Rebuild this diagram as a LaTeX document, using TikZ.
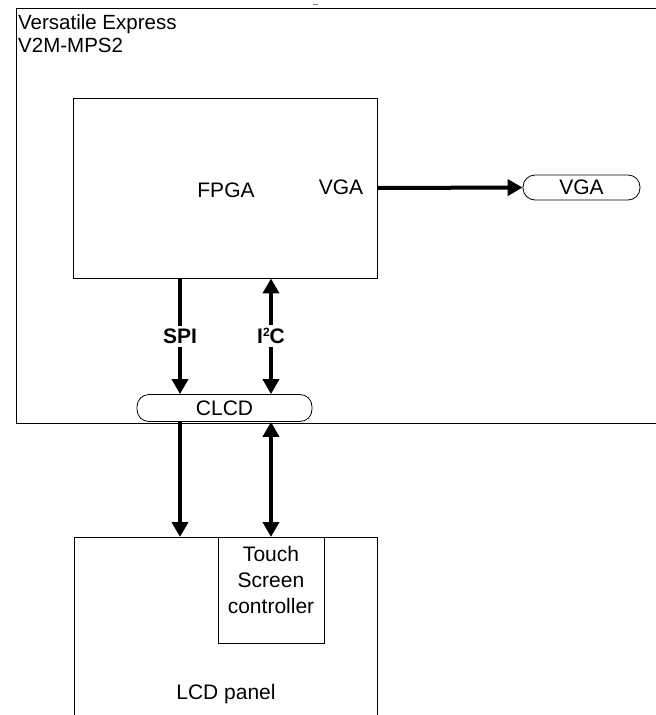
\documentclass[tikz,border=0pt]{standalone}
\usepackage{fontspec}
\setmainfont{Liberation Sans}
\usetikzlibrary{arrows.meta,positioning}

\begin{document}
\begin{tikzpicture}[x=1pt,y=-1pt]
\tikzstyle{block}=[draw=black,line width=0.8pt,inner sep=0pt]
\tikzstyle{pill}=[draw=black,line width=0.8pt,rounded corners=12pt,inner sep=0pt]
\tikzstyle{txt}=[font=\fontsize{21}{23}\selectfont]
\tikzstyle{lbl}=[font=\fontsize{21}{23}\selectfont\bfseries,fill=white,inner sep=3pt]
\tikzstyle{bus}=[line width=4pt,-{Triangle[width=16pt,length=15pt]}]
\tikzstyle{dbus}=[line width=4pt,{Triangle[width=16pt,length=15pt]}-{Triangle[width=16pt,length=15pt]}]
\useasboundingbox (0,0) rectangle (656,715);
\clip (0,0) rectangle (656,715);
% board
\node[block,minimum width=700pt,minimum height=415pt,anchor=north west] (board) at (16,8) {};
\node[font=\fontsize{20.5}{23}\selectfont,anchor=north west,align=left,inner sep=2pt] (boardname) at ([yshift=-4pt]board.north west) {Versatile Express\\V2M-MPS2};
\draw[gray,line width=1pt] (313,4) -- (318,4);
% fpga
\node[block,minimum width=304pt,minimum height=180pt] (fpga) at (225,188) {};
\node[txt] (fpganame) at (226,190) {FPGA};
\node[txt] (fpgavga) at (341,187) {VGA};
\node[pill,txt,minimum width=117pt,minimum height=25pt] (vga) at (581.5,187.5) {VGA};
\node[pill,txt,minimum width=175pt,minimum height=27pt] (clcd) at (224.5,408) {CLCD};
\coordinate (colA) at (180,0);
\coordinate (colB) at (271,0);
\draw[bus] (fpga.east) -- (vga.west);
\draw[bus] (fpga.south -| colA) -- node[lbl] {SPI} (clcd.north -| colA);
\draw[dbus] (fpga.south -| colB) -- node[lbl] {I\raisebox{7pt}{\fontsize{12}{12}\selectfont\bfseries 2}C} (clcd.north -| colB);
% lcd
\node[block,minimum width=303pt,minimum height=250pt,anchor=north west] (lcd) at (74,537) {};
\node[block,minimum width=106pt,minimum height=106pt,anchor=north] (touch) at (lcd.north -| colB) {};
\node[font=\fontsize{21}{26}\selectfont,align=center,anchor=north] (touchname) at ([yshift=-6pt]touch.north) {Touch\\Screen\\controller};
\node[txt] (lcdname) at (226,694) {LCD panel};
\draw[bus] (clcd.south -| colA) -- (lcd.north -| colA);
\draw[dbus] (clcd.south -| colB) -- (touch.north);
\end{tikzpicture}
\end{document}
